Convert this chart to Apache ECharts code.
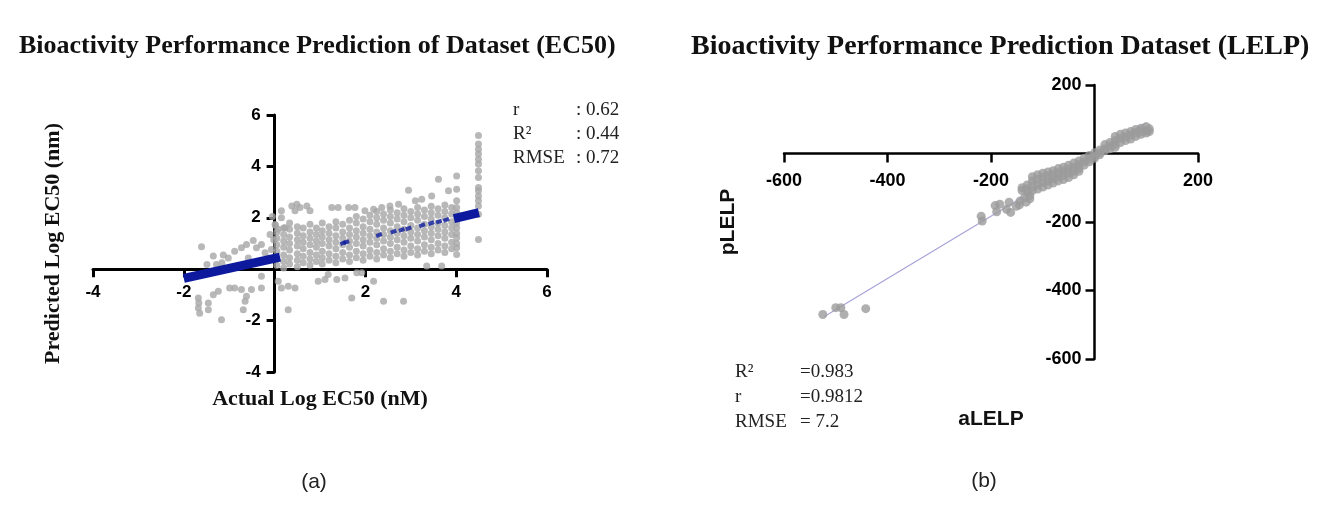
<!DOCTYPE html>
<html><head><meta charset="utf-8">
<script src="https://cdn.jsdelivr.net/npm/echarts@6/dist/echarts.min.js"></script>
<style>html,body{margin:0;padding:0;background:#fff}#c{width:1328px;height:525px}</style>
</head><body><div id="c"></div>
<script>
// ---------- Panel (a) : EC50 ----------
const ec50Title = 'Bioactivity Performance Prediction of Dataset (EC50)';
const ec50XName = 'Actual Log EC50 (nM)';
const ec50YName = 'Predicted Log EC50 (nm)';
const ec50XTicks = [-4, -2, 0, 2, 4, 6];
const ec50YTicks = [-4, -2, 0, 2, 4, 6];
const ec50Stats = [['r', ': 0.62'], ['R²', ': 0.44'], ['RMSE', ': 0.72']];

// grey observed points [actual, predicted]
const ec50Points = [
  [-1.61,0.87],[-1.35,0.51],[-1.13,0.55],[-1.28,0.18],[-1.49,0.18],[-1.02,0.44],[-1.16,0.25],[-0.88,0.70],[-0.73,0.83],
  [-0.62,0.96],[-0.47,1.12],[-0.40,0.83],[-0.29,0.96],[-0.58,0.44],[-0.21,0.64],[-0.14,0.44],[-0.10,1.35],[-0.07,0.77],
  [-0.05,2.05],[0.02,1.70],[-0.02,1.15],
  [-1.68,-1.12],[-1.67,-1.32],[-1.68,-1.51],[-1.65,-1.71],[-1.46,-1.32],[-1.46,-1.58],[-1.17,-1.97],[-1.35,-0.99],
  [-1.24,-0.86],[-0.99,-0.73],[-0.88,-0.73],[-0.73,-0.79],[-0.65,-1.25],[-0.62,-1.05],[-0.51,-0.79],[-0.69,-1.58],
  [-0.29,-0.27],[-0.29,-0.73],
  [0.30,-0.66],[0.45,-0.73],[0.30,-1.58],[0.15,-0.73],[0.08,-0.47],
  [0.96,-0.47],[1.11,-0.40],[1.18,-0.21],[1.37,-0.40],[1.55,-0.34],[1.70,-1.12],[1.81,-0.14],[1.92,-0.14],[2.18,-0.47],
  [2.40,-1.25],[2.84,-1.25],[3.35,0.12],[3.68,0.12],
  [0.15,2.27],[0.38,2.46],[0.45,2.27],[0.49,2.53],[0.56,2.40],[0.71,2.46],[0.78,2.27],[0.15,2.00],[0.01,1.74],[0.08,1.55],[0.23,1.61],
  [1.26,2.40],[1.40,2.40],[1.63,2.40],[1.77,2.40],[1.99,2.27],[2.18,2.33],[2.36,2.40],[2.54,2.46],[2.73,2.53],[2.95,3.07],
  [3.10,2.66],[3.24,2.72],[3.46,2.85],[3.61,3.50],[3.83,3.05],
  [4.01,3.63],[4.01,3.11],[4.01,2.66],[4.01,2.40],[4.01,2.20],[4.01,2.00],[4.01,1.80],[4.01,1.61],[4.01,1.40],[4.01,1.22],
  [4.01,1.00],[4.01,0.83],[4.01,0.57],
  [4.49,5.20],[4.49,4.87],[4.49,4.67],[4.49,4.48],[4.49,4.28],[4.49,4.09],[4.49,3.83],[4.49,3.57],[4.49,3.18],[4.49,3.05],
  [4.49,2.85],[4.49,2.66],[4.49,2.46],[4.49,2.14],[4.49,1.16],
  [0.05,0.15],[0.05,0.40],[0.05,0.70],[0.05,0.95],[0.05,1.20],[0.05,1.45],
  [0.20,0.05],[0.20,0.30],[0.20,0.55],[0.20,0.85],[0.20,1.10],[0.20,1.35],[0.20,1.60],
  [0.33,0.20],[0.33,0.45],[0.33,0.75],[0.33,1.00],[0.33,1.25],[0.33,1.55],[0.33,1.80],
  [0.50,0.10],[0.50,0.35],[0.50,0.60],[0.50,0.90],[0.50,1.15],[0.50,1.40],[0.50,1.65],
  [0.63,0.25],[0.63,0.50],[0.63,0.80],[0.63,1.05],[0.63,1.30],[0.63,1.60],
  [0.78,0.15],[0.78,0.40],[0.78,0.65],[0.78,0.95],[0.78,1.20],[0.78,1.45],[0.78,1.75],
  [0.92,0.30],[0.92,0.55],[0.92,0.85],[0.92,1.10],[0.92,1.35],[0.92,1.60],
  [1.05,0.20],[1.05,0.45],[1.05,0.70],[1.05,1.00],[1.05,1.25],[1.05,1.50],[1.05,1.80],
  [1.20,0.35],[1.20,0.60],[1.20,0.90],[1.20,1.15],[1.20,1.40],[1.20,1.65],
  [1.35,0.25],[1.35,0.50],[1.35,0.80],[1.35,1.05],[1.35,1.30],[1.35,1.60],[1.35,1.85],
  [1.50,0.40],[1.50,0.65],[1.50,0.95],[1.50,1.20],[1.50,1.45],[1.50,1.75],
  [1.65,0.30],[1.65,0.55],[1.65,0.85],[1.65,1.10],[1.65,1.35],[1.65,1.60],[1.65,1.90],
  [1.80,0.45],[1.80,0.70],[1.80,1.00],[1.80,1.25],[1.80,1.50],[1.80,1.80],[1.80,2.05],
  [1.95,0.35],[1.95,0.60],[1.95,0.90],[1.95,1.15],[1.95,1.40],[1.95,1.65],[1.95,1.95],
  [2.10,0.50],[2.10,0.75],[2.10,1.05],[2.10,1.30],[2.10,1.55],[2.10,1.85],[2.10,2.10],
  [2.25,0.40],[2.25,0.65],[2.25,0.95],[2.25,1.20],[2.25,1.45],[2.25,1.75],[2.25,2.00],[2.25,2.25],
  [2.40,0.55],[2.40,0.80],[2.40,1.10],[2.40,1.35],[2.40,1.60],[2.40,1.90],[2.40,2.15],
  [2.55,0.45],[2.55,0.70],[2.55,1.00],[2.55,1.25],[2.55,1.50],[2.55,1.80],[2.55,2.05],[2.55,2.30],
  [2.70,0.60],[2.70,0.85],[2.70,1.15],[2.70,1.40],[2.70,1.65],[2.70,1.95],[2.70,2.20],
  [2.85,0.50],[2.85,0.75],[2.85,1.05],[2.85,1.30],[2.85,1.55],[2.85,1.85],[2.85,2.10],[2.85,2.35],
  [3.00,0.65],[3.00,0.90],[3.00,1.20],[3.00,1.45],[3.00,1.70],[3.00,2.00],[3.00,2.25],
  [3.15,0.55],[3.15,0.80],[3.15,1.10],[3.15,1.35],[3.15,1.60],[3.15,1.90],[3.15,2.15],[3.15,2.40],
  [3.30,0.70],[3.30,0.95],[3.30,1.25],[3.30,1.50],[3.30,1.75],[3.30,2.05],[3.30,2.30],
  [3.45,0.60],[3.45,0.85],[3.45,1.15],[3.45,1.40],[3.45,1.65],[3.45,1.95],[3.45,2.20],[3.45,2.45],
  [3.60,0.75],[3.60,1.00],[3.60,1.30],[3.60,1.55],[3.60,1.80],[3.60,2.10],[3.60,2.35],
  [3.75,0.65],[3.75,0.90],[3.75,1.20],[3.75,1.45],[3.75,1.70],[3.75,2.00],[3.75,2.25],[3.75,2.50],
  [3.90,0.80],[3.90,1.05],[3.90,1.35],[3.90,1.60],[3.90,1.85],[3.90,2.15],[3.90,2.40]
];
// blue predicted band (visible parts)
const ec50FitLow = [[-2.0,-0.36],[0.12,0.47]];
const ec50FitHigh = [[3.95,1.97],[4.5,2.2]];
const ec50FitDashes = [[1.51,1.02],[1.58,1.05],[2.30,1.33],[2.62,1.46],[2.80,1.53],[2.95,1.59],[3.25,1.71],[3.45,1.79],[3.62,1.85],[3.78,1.92]];

// ---------- Panel (b) : LELP ----------
const lelpTitle = 'Bioactivity Performance Prediction Dataset (LELP)';
const lelpXName = 'aLELP';
const lelpYName = 'pLELP';
const lelpXTicks = [-600, -400, -200, 0, 200];
const lelpYTicks = [-600, -400, -200, 0, 200];
const lelpStats = [['R²', '=0.983'], ['r', '=0.9812'], ['RMSE', '= 7.2']];
const lelpPoints = [
  [-525,-470],[-500,-450],[-490,-450],[-484,-470],[-442,-453],
  [-219,-183],[-217,-197],[-192,-152],[-189,-170],[-183,-148],[-170,-163],[-165,-142],[-162,-172],[-151,-154],
  [-145,-150],[-144,-139],[-135,-129],[-132,-142],[-125,-123],[-125,-132],
  [-140,-100],[-140,-108],[-130,-92],[-130,-104],[-130,-112],
  [-120,-68],[-120,-80],[-120,-94],[-120,-108],[-110,-62],[-110,-76],[-110,-90],[-110,-104],
  [-100,-58],[-100,-70],[-100,-84],[-100,-98],[-90,-54],[-90,-66],[-90,-80],[-90,-92],
  [-80,-50],[-80,-62],[-80,-74],[-80,-86],[-70,-44],[-70,-56],[-70,-68],[-70,-80],
  [-60,-40],[-60,-52],[-60,-64],[-60,-76],[-50,-34],[-50,-46],[-50,-58],[-50,-70],
  [-40,-28],[-40,-40],[-40,-52],[-40,-62],[-30,-22],[-30,-32],[-30,-44],[-30,-52],
  [-20,-14],[-20,-24],[-20,-34],[-10,-6],[-10,-16],[-10,-24],[0,2],[0,-8],[0,-14],
  [10,10],[10,2],[10,-4],[20,26],[20,14],[20,8],[30,32],[30,22],[30,14],
  [40,50],[40,38],[40,26],[40,18],[50,56],[50,44],[50,32],[60,60],[60,48],[60,38],
  [70,64],[70,54],[70,42],[80,70],[80,60],[80,50],[90,74],[90,64],[90,56],[100,78],[100,66],[100,60],[106,72],[106,64]
];
const lelpFit = [[-522,-476],[100,90]];

// grid placement (pixels) of the two panels
const G0 = {left: 93, top: 115, width: 454, height: 257};
const G1 = {left: 784, top: 85, width: 414, height: 274};

const C = echarts.init(document.getElementById('c'), null, {renderer: 'canvas'});
const tickFmt = v => (v === 0 ? '' : String(v));

function axisCommon(ticks, lw, fs, offset, tickLen, margin) {
  return {
    type: 'value', min: ticks[0], max: ticks[ticks.length - 1], interval: ticks[1] - ticks[0],
    offset: offset,
    axisLine: {show: true, onZero: false, lineStyle: {color: '#000', width: lw}},
    axisTick: {show: true, inside: false, length: tickLen, lineStyle: {color: '#000', width: lw}},
    axisLabel: {formatter: tickFmt, fontFamily: 'Liberation Sans', fontWeight: 'bold', fontSize: fs, color: '#000', margin: margin},
    splitLine: {show: false}
  };
}
// offset that brings each axis line onto the other axis' zero
function zeroOffsetX(ticks, g) { // x axis (bottom) moved up to y = 0
  const r = (0 - ticks[0]) / (ticks[ticks.length - 1] - ticks[0]);
  return -r * g.height;
}
function zeroOffsetY(ticks, g) { // y axis (left) moved right to x = 0
  const r = (0 - ticks[0]) / (ticks[ticks.length - 1] - ticks[0]);
  return -r * g.width;
}

const serifStat = {fontFamily: 'Liberation Serif', fontSize: 19, fill: '#222'};
const graphics = [];
ec50Stats.forEach((s, i) => {
  graphics.push({type: 'text', x: 513, y: 110 + i * 24, style: Object.assign({text: s[0], verticalAlign: 'middle'}, serifStat)});
  graphics.push({type: 'text', x: 576, y: 110 + i * 24, style: Object.assign({text: s[1], verticalAlign: 'middle'}, serifStat)});
});
lelpStats.forEach((s, i) => {
  graphics.push({type: 'text', x: 735, y: 372 + i * 25, style: Object.assign({text: s[0], verticalAlign: 'middle'}, serifStat)});
  graphics.push({type: 'text', x: 800, y: 372 + i * 25, style: Object.assign({text: s[1], verticalAlign: 'middle'}, serifStat)});
});
graphics.push({type: 'text', x: 314, y: 482, style: {text: '(a)', fontFamily: 'Liberation Sans', fontSize: 21, fill: '#222', align: 'center', verticalAlign: 'middle'}});
graphics.push({type: 'text', x: 984, y: 481, style: {text: '(b)', fontFamily: 'Liberation Sans', fontSize: 21, fill: '#222', align: 'center', verticalAlign: 'middle'}});

const xa0 = Object.assign(axisCommon(ec50XTicks, 3, 17, zeroOffsetX(ec50YTicks, G0), 8, 15), {gridIndex: 0, position: 'bottom', name: ec50XName, nameLocation: 'middle', nameGap: 119,
  nameTextStyle: {fontFamily: 'Liberation Serif', fontWeight: 'bold', fontSize: 22, color: '#111'}});
const ya0 = Object.assign(axisCommon(ec50YTicks, 3, 17, zeroOffsetY(ec50XTicks, G0), 8, 14), {gridIndex: 0, position: 'left', name: ec50YName, nameLocation: 'middle', nameGap: 210,
  nameTextStyle: {fontFamily: 'Liberation Serif', fontWeight: 'bold', fontSize: 22, color: '#111'}});
const xa1 = Object.assign(axisCommon(lelpXTicks, 2.5, 18, zeroOffsetX(lelpYTicks, G1), 9, 19), {gridIndex: 1, position: 'bottom', name: lelpXName, nameLocation: 'middle', nameGap: 255,
  nameTextStyle: {fontFamily: 'Liberation Sans', fontWeight: 'bold', fontSize: 21, color: '#111'}});
const ya1 = Object.assign(axisCommon(lelpYTicks, 2.5, 18, zeroOffsetY(lelpXTicks, G1), 9, 13), {gridIndex: 1, position: 'left', name: lelpYName, nameLocation: 'middle', nameGap: 356,
  nameTextStyle: {fontFamily: 'Liberation Sans', fontWeight: 'bold', fontSize: 21, color: '#111'}});

C.setOption({
  animation: false,
  backgroundColor: '#fff',
  title: [
    {text: ec50Title, left: 14, top: 28, textStyle: {fontFamily: 'Liberation Serif', fontWeight: 'bold', fontSize: 26, color: '#111'}},
    {text: lelpTitle, left: 686, top: 28, textStyle: {fontFamily: 'Liberation Serif', fontWeight: 'bold', fontSize: 28, color: '#111'}}
  ],
  grid: [
    Object.assign({containLabel: false, outerBoundsMode: 'none'}, G0),
    Object.assign({containLabel: false, outerBoundsMode: 'none'}, G1)
  ],
  xAxis: [xa0, xa1],
  yAxis: [ya0, ya1],
  graphic: graphics,
  series: [
    {type: 'scatter', xAxisIndex: 0, yAxisIndex: 0, data: ec50Points, symbolSize: 7, itemStyle: {color: '#a6a6a6'}, z: 2},
    {type: 'line', xAxisIndex: 0, yAxisIndex: 0, data: ec50FitLow, showSymbol: false, lineStyle: {color: '#0d1a9e', width: 9, cap: 'butt'}, z: 3},
    {type: 'line', xAxisIndex: 0, yAxisIndex: 0, data: ec50FitHigh, showSymbol: false, lineStyle: {color: '#0d1a9e', width: 9, cap: 'butt'}, z: 3},
    {type: 'scatter', xAxisIndex: 0, yAxisIndex: 0, data: ec50FitDashes, symbol: 'rect', symbolSize: [6, 4], symbolRotate: 20, itemStyle: {color: '#0d1a9e'}, z: 3},
    {type: 'line', xAxisIndex: 1, yAxisIndex: 1, data: lelpFit, showSymbol: false, lineStyle: {color: '#a7a3d8', width: 1.2}, z: 1},
    {type: 'scatter', xAxisIndex: 1, yAxisIndex: 1, data: lelpPoints, symbolSize: 9, itemStyle: {color: '#9b9b9b'}, z: 2}
  ]
});
</script></body></html>
